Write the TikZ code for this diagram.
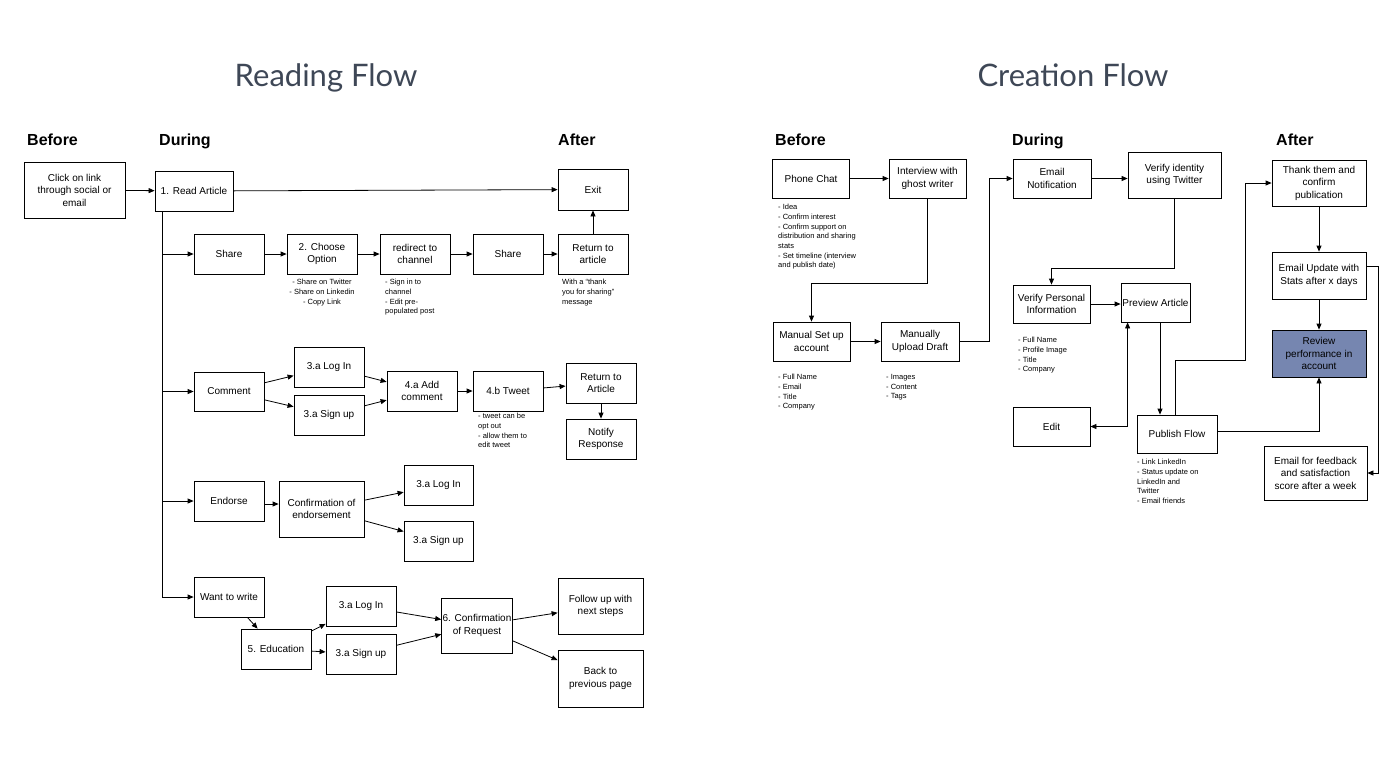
\documentclass[tikz,border=0pt]{standalone}
\usepackage{fontspec}
\setmainfont{Liberation Sans}
\newfontfamily\titlefont{Lato}
\usepackage{tikz}
\usetikzlibrary{calc,shapes,positioning}
\usetikzlibrary{arrows.meta}
\tikzset{>={Triangle[width=5pt,length=6pt]}}
\definecolor{titlegray}{RGB}{62,71,86}
\definecolor{reviewblue}{RGB}{118,134,176}

\begin{document}
\begin{tikzpicture}[x=1pt,y=-1pt]
      \tikzstyle{flowbox} = [draw=black, line width=0.8pt, rectangle, align=center, inner sep=1pt, minimum width=70pt, minimum height=40pt, font=\fontsize{10}{12.5}\selectfont]
      \tikzstyle{notetext} = [inner sep=0pt, align=left, font=\fontsize{7.5}{9.7}\selectfont]
      \tikzstyle{phase} = [inner sep=0pt, anchor=base west, font=\fontsize{16}{18}\selectfont\bfseries]
      \tikzstyle{flowtitle} = [inner sep=0pt, anchor=base, text=titlegray, font=\titlefont\fontsize{31}{36}\selectfont]
      \tikzstyle{link} = [->, line width=0.8pt]

      \useasboundingbox (0,0) rectangle (1400,774);

      % reading flow
      \node[flowtitle] (readtitle) at (326,86) {Reading Flow};
      \node[phase] (rbefore) at (27,145.5) {Before};
      \node[phase] (rduring) at (159,145.5) {During};
      \node[phase] (rafter) at (558,145.5) {After};

      \node[flowbox, minimum width=101pt, minimum height=56pt] (click) at (74.5,190) {Click on link\\through social or\\email};
      \node[flowbox, minimum width=78pt] (read) at (194,191) {1. Read Article};
      \node[flowbox, minimum height=41pt] (exit) at (593,189.5) {Exit};

      \node[flowbox] (share) at (229,254) {Share};
      \node[flowbox] (choose) at (322,254) {2. Choose\\Option};
      \node[flowbox] (redirect) at (415,254) {redirect to\\channel};
      \node[flowbox] (reshare) at (508,254) {Share};
      \node[flowbox] (backart) at (593,254) {Return to\\article};
      \node[notetext, anchor=north, align=center] (choosenote) at (322,279) {- Share on Twitter\\- Share on Linkedin\\- Copy Link};
      \node[notetext, anchor=north west] (redirectnote) at (385,279) {- Sign in to\\channel\\- Edit pre-\\populated post};
      \node[notetext, anchor=north west] (backartnote) at (562,279) {With a “thank\\you for sharing”\\message};

      \node[flowbox, minimum height=39pt] (comment) at (229,391.5) {Comment};
      \node[flowbox] (loginA) at (329,367) {3.a Log In};
      \node[flowbox] (signupA) at (329,415) {3.a Sign up};
      \node[flowbox] (addcomment) at (422,391) {4.a Add\\comment};
      \node[flowbox] (tweet) at (508,391) {4.b Tweet};
      \node[flowbox] (returnart) at (601,383) {Return to\\Article};
      \node[flowbox] (notify) at (601,439) {Notify\\Response};
      \node[notetext, anchor=north west] (tweetnote) at (478,413) {- tweet can be\\opt out\\- allow them to\\edit tweet};

      \node[flowbox] (endorse) at (229,501) {Endorse};
      \node[flowbox, minimum width=85pt, minimum height=56pt] (confendorse) at (321.5,509) {Confirmation of\\endorsement};
      \node[flowbox, minimum width=69pt] (loginB) at (438.5,485) {3.a Log In};
      \node[flowbox, minimum width=69pt] (signupB) at (438.5,541) {3.a Sign up};

      \node[flowbox] (write) at (229,597) {Want to write};
      \node[flowbox] (educate) at (276,649) {5. Education};
      \node[flowbox] (loginC) at (361,606) {3.a Log In};
      \node[flowbox] (signupC) at (361,654) {3.a Sign up};
      \node[flowbox, minimum height=55pt] (confrequest) at (477,625.5) {6. Confirmation\\of Request};
      \node[flowbox, minimum width=85pt, minimum height=56pt] (followup) at (600.5,606) {Follow up with\\next steps};
      \node[flowbox, minimum width=85pt, minimum height=57pt] (prevpage) at (600.5,678.5) {Back to\\previous page};

      \coordinate (trunk) at ($(read.south west)+(8,0)$);

      \draw[link] (click) -- (read);
      \draw[link] (read) -- (exit);
      \draw[link] (trunk) |- (write);
      \draw[link] (trunk |- share) -- (share);
      \draw[link] (trunk |- comment) -- (comment);
      \draw[link] (trunk |- endorse) -- (endorse);

      \draw[link] (share) -- (choose);
      \draw[link] (choose) -- (redirect);
      \draw[link] (redirect) -- (reshare);
      \draw[link] (reshare) -- (backart);
      \draw[link] (backart) -- (exit);

      \draw[link] (comment) -- (loginA);
      \draw[link] (comment) -- (signupA);
      \draw[link] (loginA) -- (addcomment);
      \draw[link] (signupA) -- (addcomment);
      \draw[link] (addcomment) -- (tweet);
      \draw[link] (tweet) -- (returnart);
      \draw[link] (returnart) -- (notify);

      \draw[link] ([yshift=-3pt]endorse.east) -- ([yshift=-3pt]endorse.east -| confendorse.west);
      \draw[link] (confendorse) -- (loginB);
      \draw[link] (confendorse) -- (signupB);

      \draw[link] (write) -- (educate);
      \draw[link] (educate) -- (loginC);
      \draw[link] (educate) -- (signupC);
      \draw[link] (loginC) -- (confrequest);
      \draw[link] (signupC) -- (confrequest);
      \draw[link] (confrequest) -- (followup);
      \draw[link] (confrequest) -- (prevpage);

      % creation flow
      \node[flowtitle] (createtitle) at (1073,86) {Creation Flow};
      \node[phase] (cbefore) at (775,145.5) {Before};
      \node[phase] (cduring) at (1012,145.5) {During};
      \node[phase] (cafter) at (1276,145.5) {After};

      \node[flowbox, minimum width=77pt, minimum height=39pt] (phone) at (811,178.5) {Phone Chat};
      \node[flowbox, minimum width=77pt, minimum height=39pt] (interview) at (927.5,178.5) {Interview with\\ghost writer};
      \node[notetext, anchor=north west] (phonenote) at (778,204) {- Idea\\- Confirm interest\\- Confirm support on\\distribution and sharing\\stats\\- Set timeline (interview\\and publish date)};
      \node[flowbox, minimum width=77pt, minimum height=39pt] (manual) at (811.5,341.5) {Manual Set up\\account};
      \node[flowbox, minimum width=78pt, minimum height=39pt] (upload) at (920,341.5) {Manually\\Upload Draft};
      \node[notetext, anchor=north west] (manualnote) at (778,374) {- Full Name\\- Email\\- Title\\- Company};
      \node[notetext, anchor=north west] (uploadnote) at (886,374) {- Images\\- Content\\- Tags};

      \node[flowbox, minimum width=78pt, minimum height=39pt] (emailnote) at (1052,178.5) {Email\\Notification};
      \node[flowbox, minimum width=93pt, minimum height=46pt] (verifyid) at (1174.5,175) {Verify identity\\using Twitter};
      \node[flowbox, minimum width=77pt, minimum height=38pt] (verifyinfo) at (1051.5,304) {Verify Personal\\Information};
      \node[flowbox, minimum width=69pt, minimum height=39pt] (preview) at (1155.5,302.5) {Preview Article};
      \node[notetext, anchor=north west] (verifynote) at (1018,337) {- Full Name\\- Profile Image\\- Title\\- Company};
      \node[flowbox, minimum width=77pt, minimum height=39pt] (edit) at (1051.5,426.5) {Edit};
      \node[flowbox, minimum width=80pt, minimum height=38pt] (publish) at (1177,434) {Publish Flow};
      \node[notetext, anchor=north west] (publishnote) at (1137,459) {- Link LinkedIn\\- Status update on\\LinkedIn and\\Twitter\\- Email friends};

      \node[flowbox, minimum width=94pt, minimum height=46pt] (thank) at (1319,183) {Thank them and\\confirm\\publication};
      \node[flowbox, minimum width=94pt, minimum height=47pt] (statsmail) at (1319,275.5) {Email Update with\\Stats after x days};
      \node[flowbox, minimum width=94pt, minimum height=47pt, fill=reviewblue] (review) at (1319,353.5) {Review\\performance in\\account};
      \node[flowbox, minimum width=103pt, minimum height=54pt] (feedback) at (1315.5,473) {Email for feedback\\and satisfaction\\score after a week};

      \coordinate (pubturn) at (1245,360);

      \draw[link] (phone) -- (interview);
      \draw[link] (interview.south) -- ++(0,85) -| (manual.north);
      \draw[link] (manual) -- (upload);
      \draw[link] (upload.east) -- ++(30,0) |- (emailnote.west);
      \draw[link] (emailnote.east) -- (emailnote.east -| verifyid.west);
      \draw[link] (verifyid.south) -- ++(0,70) -| (verifyinfo.north);
      \draw[link] (verifyinfo.east) -- (verifyinfo.east -| preview.west);
      \draw[link] ([xshift=4.5pt]preview.south) -- ([xshift=4.5pt]preview.south |- publish.north);
      \draw[<->, line width=0.8pt] (edit.east) -| ([xshift=7pt]preview.south west);
      \draw[link] ([xshift=-2pt]publish.north) |- (pubturn) |- (thank.west);
      \draw[link] ([yshift=3pt]publish.east) -| (review.south);
      \draw[link] (thank) -- (statsmail);
      \draw[link] (statsmail) -- (review);
      \draw[link] ([yshift=9pt]statsmail.east) -- ++(12,0) |- (feedback.east);
\end{tikzpicture}
\end{document}
